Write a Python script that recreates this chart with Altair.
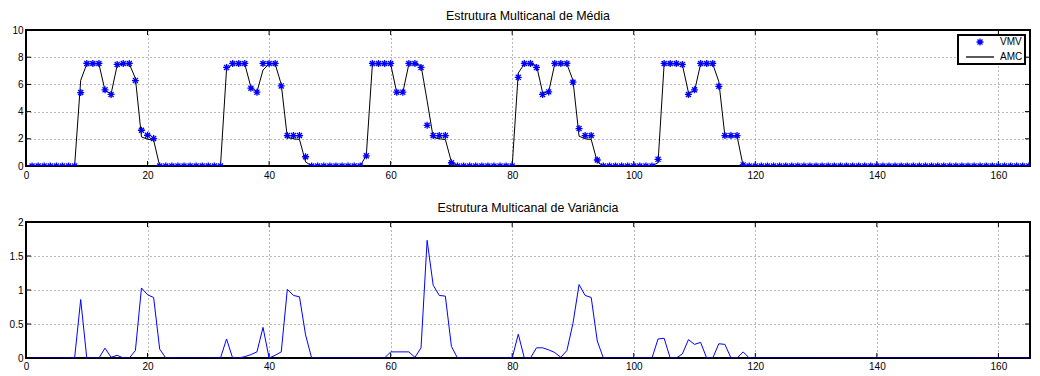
import altair as alt
import pandas as pd

# ---------------- data ----------------
x_index = list(range(1, 168))

vmv = [
    0, 0, 0, 0, 0, 0, 0, 0, 5.4, 7.54,
    7.54, 7.54, 5.6, 5.26, 7.47, 7.54, 7.54, 6.28, 2.63, 2.26,
    2.02, 0, 0, 0, 0, 0, 0, 0, 0, 0,
    0, 0, 7.25, 7.54, 7.54, 7.54, 5.72, 5.43, 7.54, 7.54,
    7.54, 5.89, 2.24, 2.24, 2.24, 0.68, 0, 0, 0, 0,
    0, 0, 0, 0, 0, 0.75, 7.54, 7.54, 7.54, 7.54,
    5.43, 5.43, 7.54, 7.54, 7.25, 2.99, 2.24, 2.24, 2.24, 0.24,
    0, 0, 0, 0, 0, 0, 0, 0, 0, 0,
    6.52, 7.54, 7.54, 7.25, 5.26, 5.45, 7.54, 7.54, 7.54, 6.16,
    2.75, 2.24, 2.24, 0.44, 0, 0, 0, 0, 0, 0,
    0, 0, 0, 0.49, 7.54, 7.54, 7.54, 7.47, 5.26, 5.6,
    7.54, 7.54, 7.54, 5.86, 2.24, 2.24, 2.24, 0.08, 0, 0,
    0, 0, 0, 0, 0, 0, 0, 0, 0, 0,
    0, 0, 0, 0, 0, 0, 0, 0, 0, 0,
    0, 0, 0, 0, 0, 0, 0, 0, 0, 0,
    0, 0, 0, 0, 0, 0, 0, 0, 0, 0,
    0, 0, 0, 0, 0, 0, 0,
]

amc = [
    0, 0, 0, 0, 0, 0, 0, 0, 6.3, 7.5,
    7.5, 7.5, 5.55, 5.3, 7.4, 7.5, 7.5, 6.45, 2.14, 1.97,
    1.9, 0, 0, 0, 0, 0, 0, 0, 0, 0,
    0, 0, 7.13, 7.5, 7.5, 7.5, 5.8, 5.45, 7.06, 7.5,
    7.5, 6.0, 2.09, 2.0, 1.95, 0.3, 0, 0, 0, 0,
    0, 0, 0, 0, 0, 0.8, 7.5, 7.5, 7.5, 7.5,
    5.4, 5.4, 7.5, 7.5, 7.4, 4.8, 2.1, 2.0, 1.95, 0.3,
    0, 0, 0, 0, 0, 0, 0, 0, 0, 0,
    6.84, 7.5, 7.5, 7.4, 5.4, 5.45, 7.5, 7.5, 7.5, 6.3,
    2.19, 2.0, 1.95, 0.3, 0, 0, 0, 0, 0, 0,
    0, 0, 0, 0.25, 7.5, 7.5, 7.5, 7.45, 5.4, 5.5,
    7.5, 7.5, 7.5, 6.2, 2.2, 2.2, 2.2, 0, 0, 0,
    0, 0, 0, 0, 0, 0, 0, 0, 0, 0,
    0, 0, 0, 0, 0, 0, 0, 0, 0, 0,
    0, 0, 0, 0, 0, 0, 0, 0, 0, 0,
    0, 0, 0, 0, 0, 0, 0, 0, 0, 0,
    0, 0, 0, 0, 0, 0, 0,
]

variancia = [
    0, 0, 0, 0, 0, 0, 0, 0, 0.86, 0,
    0, 0, 0.145, 0.01, 0.04, 0, 0, 0.11, 1.03, 0.93,
    0.89, 0.13, 0, 0, 0, 0, 0, 0, 0, 0,
    0, 0, 0.28, 0, 0, 0.02, 0.05, 0.09, 0.45, 0,
    0.04, 0.09, 1.01, 0.92, 0.9, 0.34, 0, 0, 0, 0,
    0, 0, 0, 0, 0, 0, 0, 0, 0, 0.09,
    0.09, 0.09, 0.09, 0.01, 0.15, 1.73, 1.07, 0.92, 0.91, 0.17,
    0, 0, 0, 0, 0, 0, 0, 0, 0, 0,
    0.35, 0, 0, 0.15, 0.15, 0.12, 0.08, 0.01, 0.11, 0.51,
    1.08, 0.92, 0.89, 0.25, 0, 0, 0, 0, 0, 0,
    0, 0, 0, 0.28, 0.29, 0, 0, 0.06, 0.27, 0.2,
    0.23, 0, 0, 0.21, 0.2, 0, 0, 0.09, 0, 0,
    0, 0, 0, 0, 0, 0, 0, 0, 0, 0,
    0, 0, 0, 0, 0, 0, 0, 0, 0, 0,
    0, 0, 0, 0, 0, 0, 0, 0, 0, 0,
    0, 0, 0, 0, 0, 0, 0, 0, 0, 0,
    0, 0, 0, 0, 0, 0, 0,
]

x_ticks = [0, 20, 40, 60, 80, 100, 120, 140, 160]
y_ticks_media = [0, 2, 4, 6, 8, 10]
y_ticks_var = [0, 0.5, 1, 1.5, 2]
series_names = ["VMV", "AMC"]
title_media = "Estrutura Multicanal de Média"
title_var = "Estrutura Multicanal de Variância"

# ---------------- style ----------------
FONT = "Liberation Sans"
ASTERISK = "M-1,0L1,0M0,-1L0,1M-0.72,-0.72L0.72,0.72M-0.72,0.72L0.72,-0.72"
LEGEND_LINE = "M-2.8,0L2.8,0"
W = 1004
X_MAX = 165.2
H_TOP, H_BOT = 136, 136
TICK_LEN = 5

df_vmv = pd.DataFrame({"x": x_index, "valor": vmv, "serie": "VMV"})
df_amc = pd.DataFrame({"x": x_index, "valor": amc, "serie": "AMC"})
df_var = pd.DataFrame({"x": x_index, "valor": variancia})
df_xt = pd.DataFrame({"t": x_ticks})
df_yt_media = pd.DataFrame({"t": y_ticks_media})
df_yt_var = pd.DataFrame({"t": y_ticks_var})

x_scale = alt.Scale(domain=[0, X_MAX], nice=False, zero=False)


def x_axis(pad):
    return alt.Axis(values=x_ticks, title=None, grid=True, gridDash=[1, 3],
                    gridColor="#707070", gridWidth=1,
                    gridOpacity=alt.condition("datum.value == 0", alt.value(0), alt.value(1)),
                    domain=False, ticks=False,
                    labelPadding=pad, labelFontSize=10, labelFont=FONT,
                    labelColor="black", labelFlush=False, labelOverlap=False)


def y_axis(vals, top_val):
    return alt.Axis(values=vals, title=None, grid=True, gridDash=[1, 3],
                    gridColor="#707070", gridWidth=1,
                    gridOpacity=alt.condition(f"datum.value == 0 || datum.value == {top_val}",
                                              alt.value(0), alt.value(1)),
                    domain=False, ticks=False,
                    labelPadding=3, labelFontSize=10, labelFont=FONT,
                    labelColor="black", format="~r", labelOverlap=False)


def tick_layers(y_scale, y_ax, xa, df_yt, H):
    xs = alt.Chart(df_xt).mark_rule(color="black", strokeWidth=1)
    ys = alt.Chart(df_yt).mark_rule(color="black", strokeWidth=1)
    return [
        xs.encode(x=alt.X("t:Q", scale=x_scale, axis=xa),
                  y=alt.value(H), y2=alt.value(H - TICK_LEN)),
        xs.encode(x=alt.X("t:Q", scale=x_scale, axis=xa),
                  y=alt.value(0), y2=alt.value(TICK_LEN)),
        ys.encode(y=alt.Y("t:Q", scale=y_scale, axis=y_ax),
                  x=alt.value(0), x2=alt.value(TICK_LEN)),
        ys.encode(y=alt.Y("t:Q", scale=y_scale, axis=y_ax),
                  x=alt.value(W), x2=alt.value(W - TICK_LEN)),
    ]


legend = alt.Legend(title=None, orient="top-right", offset=5,
                    strokeColor="black", fillColor="white", padding=2,
                    labelFontSize=10, labelFont=FONT, labelColor="black",
                    rowPadding=2, symbolStrokeWidth=1.3,
                    symbolOffset=14, labelOffset=14)

# ----- top panel -----
y_scale_top = alt.Scale(domain=[0, 10], nice=False)
y_ax_top = y_axis(y_ticks_media, 10)
xa_top = x_axis(4)

amc_line = alt.Chart(df_amc).mark_line(color="black", strokeWidth=1, clip=True).encode(
    x=alt.X("x:Q", scale=x_scale, axis=xa_top),
    y=alt.Y("valor:Q", scale=y_scale_top, axis=y_ax_top),
)

vmv_pts = alt.Chart(df_vmv).mark_point(filled=False, strokeWidth=1.3, opacity=1, clip=True).encode(
    x=alt.X("x:Q", scale=x_scale, axis=xa_top),
    y=alt.Y("valor:Q", scale=y_scale_top, axis=y_ax_top),
    color=alt.Color("serie:N", scale=alt.Scale(domain=series_names, range=["#0000ff", "black"]), legend=legend),
    shape=alt.Shape("serie:N", scale=alt.Scale(domain=series_names, range=[ASTERISK, LEGEND_LINE]), legend=legend),
    size=alt.Size("serie:N", scale=alt.Scale(domain=series_names, range=[49, 100]), legend=legend),
)

top = alt.layer(
    *tick_layers(y_scale_top, y_ax_top, xa_top, df_yt_media, H_TOP), amc_line, vmv_pts
).properties(
    width=W, height=H_TOP,
    title=alt.TitleParams(title_media, fontSize=12.4, font=FONT, fontWeight="normal",
                          anchor="middle", offset=3, color="black"),
)

# ----- bottom panel -----
y_scale_bot = alt.Scale(domain=[0, 2], nice=False)
y_ax_bot = y_axis(y_ticks_var, 2)
xa_bot = x_axis(3)

var_line = alt.Chart(df_var).mark_line(color="#0000ff", strokeWidth=1, clip=True).encode(
    x=alt.X("x:Q", scale=x_scale, axis=xa_bot),
    y=alt.Y("valor:Q", scale=y_scale_bot, axis=y_ax_bot),
)

bottom = alt.layer(
    *tick_layers(y_scale_bot, y_ax_bot, xa_bot, df_yt_var, H_BOT), var_line
).properties(
    width=W, height=H_BOT,
    title=alt.TitleParams(title_var, fontSize=12.4, font=FONT, fontWeight="normal",
                          anchor="middle", offset=3, color="black"),
)

chart = alt.vconcat(top, bottom, spacing=19).properties(
    padding={"left": 0, "top": 0, "right": 0, "bottom": 0}
).configure(font=FONT).configure_view(
    stroke="black", strokeWidth=2
).configure_legend(strokeWidth=2)

chart.save("out.html", embed_options={"renderer": "svg", "actions": False})
